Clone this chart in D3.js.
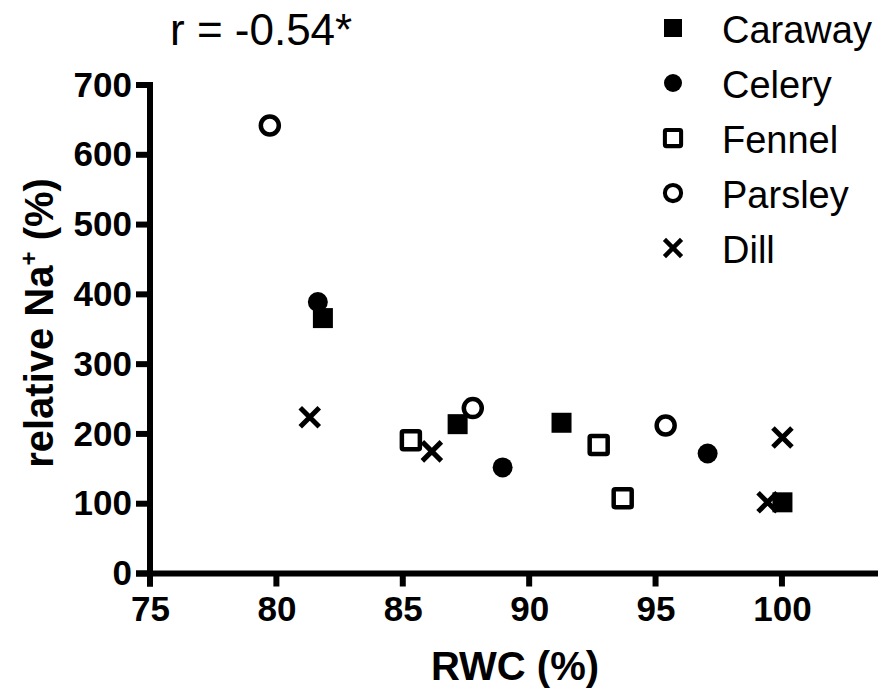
<!DOCTYPE html>
<html>
<head>
<meta charset="utf-8">
<script src="https://cdn.jsdelivr.net/npm/d3@7"></script>
<style>
  body { margin: 0; background: #fff; }
  svg { display: block; }
</style>
</head>
<body>
<svg id="chart" width="880" height="690"></svg>
<script>
const svg = d3.select("#chart")
  .attr("font-family", "'Liberation Sans', Arial, sans-serif")

// values
const species = ["Caraway", "Celery", "Fennel", "Parsley", "Dill"];
const caraway = [[81.84, 366], [87.17, 214], [91.28, 216], [100.02, 102]];
const celery  = [[81.64, 389], [88.95, 152], [97.06, 172]];
const fennel  = [[85.32, 191], [92.75, 184], [93.70, 108]];
const parsley = [[79.74, 642], [87.77, 237], [95.40, 212]];
const dill    = [[81.32, 224], [86.15, 175], [99.43, 102], [100.02, 195]];
const xTicks = [75, 80, 85, 90, 95, 100];
const yTicks = [0, 100, 200, 300, 400, 500, 600, 700];
const rText = "r = -0.54*";

const series = [caraway, celery, fennel, parsley, dill];

const x = d3.scaleLinear().domain([75, 103.8]).range([150, 878]);
const y = d3.scaleLinear().domain([0, 700]).range([573.5, 85]);

const axisW = 6;
const fontAxis = "'Liberation Sans', Arial, sans-serif";

// y axis (labels from d3 axis, thick lines drawn by hand)
const yAxis = svg.append("g")
  .attr("transform", `translate(${x(75)},0)`)
  .call(d3.axisLeft(y).tickValues(yTicks).tickSize(14).tickPadding(4).tickFormat(d3.format("d")));
yAxis.select(".domain").remove();
yAxis.selectAll(".tick line").remove();
yAxis.selectAll(".tick text")
  .attr("font-size", 35).attr("font-weight", "bold").attr("fill", "#000")
  .attr("font-family", fontAxis);
yAxis.append("line")
  .attr("x1", 0).attr("x2", 0).attr("y1", y(700) - 3).attr("y2", y(0) + 13)
  .attr("stroke", "#000").attr("stroke-width", axisW);
yAxis.selectAll(".tk").data(yTicks).join("line").attr("class", "tk")
  .attr("x1", -14).attr("x2", 0).attr("y1", d => y(d)).attr("y2", d => y(d))
  .attr("stroke", "#000").attr("stroke-width", axisW);

// x axis
const xAxis = svg.append("g")
  .attr("transform", `translate(0,${y(0)})`)
  .call(d3.axisBottom(x).tickValues(xTicks).tickSize(13).tickPadding(10).tickFormat(d3.format("d")));
xAxis.select(".domain").remove();
xAxis.selectAll(".tick line").remove();
xAxis.selectAll(".tick text")
  .attr("font-size", 35).attr("font-weight", "bold").attr("fill", "#000")
  .attr("font-family", fontAxis);
xAxis.append("line")
  .attr("x1", x(75) - 14).attr("x2", x.range()[1]).attr("y1", 0).attr("y2", 0)
  .attr("stroke", "#000").attr("stroke-width", axisW);
xAxis.selectAll(".tk").data(xTicks).join("line").attr("class", "tk")
  .attr("x1", d => x(d)).attr("x2", d => x(d)).attr("y1", 0).attr("y2", 13)
  .attr("stroke", "#000").attr("stroke-width", axisW);

// axis titles
svg.append("text")
  .attr("x", 515).attr("y", 680)
  .attr("text-anchor", "middle")
  .attr("font-size", 40).attr("font-weight", "bold")
  .text("RWC (%)");

const yl = svg.append("text")
  .attr("transform", "translate(53,323) rotate(-90)")
  .attr("text-anchor", "middle")
  .attr("font-size", 40).attr("font-weight", "bold");
yl.append("tspan").text("relative Na");
yl.append("tspan").attr("font-size", 24).attr("dy", -16).text("+");
yl.append("tspan").attr("dy", 16).text(" (%)");

svg.append("text")
  .attr("x", 170).attr("y", 45)
  .attr("font-size", 44)
  .text(rText);

// marker drawing
function marker(sel, i) {
  if (i === 0) {
    sel.append("rect").attr("x", -10).attr("y", -10).attr("width", 20).attr("height", 20).attr("fill", "#000");
  } else if (i === 1) {
    sel.append("circle").attr("r", 10).attr("fill", "#000");
  } else if (i === 2) {
    sel.append("rect").attr("x", -9).attr("y", -9).attr("width", 18).attr("height", 18)
      .attr("fill", "#fff").attr("stroke", "#000").attr("stroke-width", 4.5).attr("rx", 1.5);
  } else if (i === 3) {
    sel.append("circle").attr("r", 9).attr("fill", "#fff").attr("stroke", "#000").attr("stroke-width", 4.5);
  } else {
    sel.append("path").attr("d", "M-9.5,-9.5L9.5,9.5M-9.5,9.5L9.5,-9.5")
      .attr("stroke", "#000").attr("stroke-width", 5).attr("fill", "none");
  }
}

series.forEach((data, i) => {
  svg.append("g").attr("class", "series")
    .selectAll("g")
    .data(data)
    .join("g")
    .attr("transform", d => `translate(${x(d[0])},${y(d[1])})`)
    .each(function() { marker(d3.select(this), i); });
});

// legend
const legend = svg.append("g").attr("transform", "translate(673,28)");
species.forEach((name, i) => {
  const row = legend.append("g").attr("transform", `translate(0,${i * 55})`);
  const m = row.append("g").attr("transform", "scale(0.9)");
  marker(m, i);
  row.append("text")
    .attr("x", 49).attr("y", 15)
    .attr("font-size", 38)
    .text(name);
});
</script>
</body>
</html>
